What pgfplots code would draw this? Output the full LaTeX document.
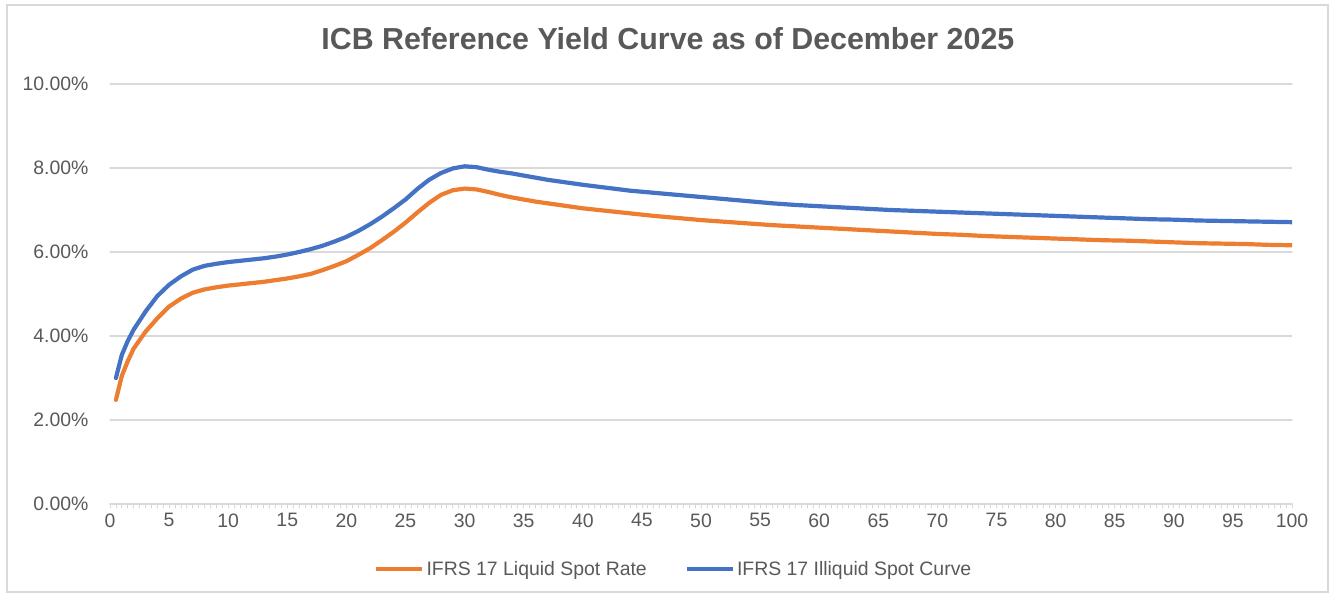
\documentclass[border=0pt]{standalone}
\usepackage{pgfplots}
\pgfplotsset{compat=1.18}
\usepackage{fontspec}
\setmainfont{Liberation Sans}
\definecolor{txt}{HTML}{595959}
\definecolor{gridc}{HTML}{D9D9D9}
\definecolor{orangec}{HTML}{ED7D31}
\definecolor{bluec}{HTML}{4472C4}
\begin{document}
\begin{tikzpicture}
\path[use as bounding box] (-110bp,-93bp) rectangle (1226bp,504bp);
\draw[gridc, line width=1.2bp] (-103bp,-88bp) rectangle (1218bp,499bp);
\begin{axis}[
  at={(0,0)}, anchor=south west,
  scale only axis, width=1182bp, height=420bp,
  xmin=0, xmax=100, ymin=0, ymax=10,
  axis x line*=bottom, axis y line*=left,
  y axis line style={draw=none},
  x axis line style={gridc, line width=1.2bp, -},
  xtick={0,5,...,100}, minor x tick num=9,
  tick align=outside, major tick length=4bp, minor tick length=4bp,
  xtick style={gridc, line width=0.8bp},
  minor x tick style={gridc, line width=0.8bp},
  ytick={0,2,...,10}, ytick style={draw=none},
  ymajorgrids, grid style={gridc, line width=1.2bp},
  tick label style={font=\fontsize{19.5}{23}\selectfont, text=txt},
  /pgf/number format/assume math mode=true,
  yticklabel={\pgfmathprintnumber[fixed,fixed zerofill,precision=2]{\tick}\%},
  yticklabel style={xshift=-14bp},
  xticklabel style={yshift=-2bp},
  title={ICB Reference Yield Curve as of December 2025},
  title style={font=\fontsize{30.5}{36}\selectfont\bfseries, text=txt, at={(0.472,1.093)}, anchor=center},
  legend columns=2,
  legend style={at={(0.477,-0.155)}, anchor=center, draw=none, fill=none,
    font=\fontsize{19.5}{23}\selectfont, text=txt,
    /tikz/every even column/.append style={column sep=36bp}},
  legend image code/.code={\draw[#1] (0bp,0bp) -- (46bp,0bp);},
  line join=round, line cap=round,
]
\addplot[orangec, line width=4.2bp] coordinates {
(0.5,2.48) (1,3.05) (1.5,3.40) (2,3.70) (3,4.10) (4,4.42) (5,4.70) (6,4.89) (7,5.03) (8,5.11) (9,5.16) (10,5.20) (11,5.23) (12,5.26) (13,5.29) (14,5.33) (15,5.37) (16,5.42) (17,5.48) (18,5.57) (19,5.67) (20,5.78) (21,5.93) (22,6.09) (23,6.28) (24,6.48) (25,6.70) (26,6.94) (27,7.17) (28,7.36) (29,7.47) (30,7.51) (31,7.49) (32,7.43) (33,7.36) (34,7.30) (35,7.25) (36,7.20) (37,7.16) (38,7.12) (39,7.08) (40,7.04) (42,6.98) (44,6.92) (46,6.86) (48,6.81) (50,6.76) (52,6.72) (54,6.68) (56,6.64) (58,6.61) (60,6.58) (62,6.55) (64,6.52) (66,6.49) (68,6.46) (70,6.43) (72,6.41) (74,6.38) (76,6.36) (78,6.34) (80,6.32) (82,6.30) (84,6.28) (86,6.27) (88,6.25) (90,6.23) (92,6.21) (94,6.20) (96,6.19) (98,6.17) (100,6.16)
};
\addlegendentry{IFRS 17 Liquid Spot Rate}
\addplot[bluec, line width=4.2bp] coordinates {
(0.5,3.00) (1,3.55) (1.5,3.88) (2,4.15) (3,4.58) (4,4.95) (5,5.22) (6,5.42) (7,5.58) (8,5.67) (9,5.72) (10,5.76) (11,5.79) (12,5.82) (13,5.85) (14,5.89) (15,5.94) (16,6.00) (17,6.07) (18,6.15) (19,6.25) (20,6.36) (21,6.50) (22,6.66) (23,6.84) (24,7.04) (25,7.25) (26,7.50) (27,7.72) (28,7.88) (29,7.99) (30,8.04) (31,8.02) (32,7.96) (33,7.91) (34,7.87) (35,7.82) (36,7.77) (37,7.72) (38,7.68) (39,7.64) (40,7.60) (42,7.53) (44,7.46) (46,7.41) (48,7.36) (50,7.31) (52,7.26) (54,7.21) (56,7.16) (58,7.12) (60,7.09) (62,7.06) (64,7.03) (66,7.00) (68,6.98) (70,6.96) (72,6.94) (74,6.92) (76,6.90) (78,6.88) (80,6.86) (82,6.84) (84,6.82) (86,6.80) (88,6.78) (90,6.77) (92,6.75) (94,6.74) (96,6.73) (98,6.72) (100,6.71)
};
\addlegendentry{IFRS 17 Illiquid Spot Curve}
\end{axis}
\end{tikzpicture}
\end{document}
